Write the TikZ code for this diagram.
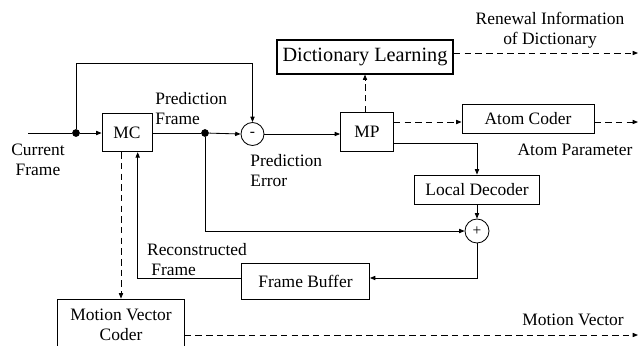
\documentclass[tikz,border=0pt]{standalone}
\usepackage{fontspec}
\setmainfont{Liberation Serif}
\usetikzlibrary{arrows.meta}
\begin{document}
\begin{tikzpicture}[x=0.025cm,y=-0.025cm,
  line width=0.6pt,
  >={Triangle[length=3.8pt,width=3pt]},
  txt/.style={font=\fontsize{12.4}{14.2}\selectfont, inner sep=0pt},
  blk/.style={draw, txt, align=center},
  sumc/.style={draw, circle, inner sep=0pt, minimum size=0.58cm, font=\fontsize{11}{12}\selectfont},
  dot/.style={circle, fill, inner sep=0pt, minimum size=5.5pt},
  dsh/.style={dash pattern=on 4.6pt off 3pt}]
\useasboundingbox (0,0) rectangle (640,345);
\clip (0,0) rectangle (640,345);
% blocks
\node[blk, minimum width=1.25cm, minimum height=0.9625cm] (MC) at (127,132.5) {MC};
\node[blk, minimum width=1.325cm, minimum height=0.975cm] (MP) at (367,132) {MP};
\node[draw, line width=1.4pt, inner sep=0pt, font=\fontsize{14.4}{16}\selectfont, minimum width=4.4cm, minimum height=0.83cm] (DL) at (365,57) {Dictionary Learning};
\node[blk, minimum width=3.3cm, minimum height=0.725cm] (AC) at (528,119) {Atom Coder};
\node[blk, minimum width=3.125cm, minimum height=0.725cm] (LD) at (477,189.5) {Local Decoder};
\node[blk, minimum width=3.2cm, minimum height=0.9cm] (FB) at (305.5,281) {Frame Buffer};
\node[blk, minimum width=3.165cm, minimum height=1.275cm] (MVC) at (121,324.5) {Motion Vector\\Coder};
\node[sumc, minimum size=0.575cm] (sub) at (252.5,134) {-};
\node[sumc, minimum size=0.6cm] (plus) at (477,231) {+};
% junctions and free ends
\node[dot] (j1) at (76,133) {};
\node[dot] (j2) at (205,133) {};
\coordinate (in) at (28,133);
\coordinate (topL) at (76,63);
\coordinate (outDL) at (638,53);
\coordinate (outAC) at (638,122);
\coordinate (mpL) at (394,143);
\coordinate (fby) at (300,278);
\coordinate (mcin) at (137.7,200);
\coordinate (outMV) at (638,335);
% connectors
\draw (in) -- (j1);
\draw[->] (j1) -- (MC.west |- j1);
\draw[->] (j1) -- (topL) -| (sub.north);
\draw (MC.east |- j2) -- (j2);
\draw[->] (j2) -- (sub.west);
\draw[->] (sub.east) -- (MP.west |- sub.east);
\draw[->,dsh] (DL.south |- MP.north) -- (DL.south);
\draw[->,dsh] (DL.east |- outDL) -- (outDL);
\draw[->,dsh] (MP.east |- outAC) -- (AC.west |- outAC);
\draw[->,dsh] (AC.east |- outAC) -- (outAC);
\draw[->] (mpL) -| (LD.north);
\draw[->] (LD.south) -- (plus.north);
\draw[->] (j2) |- (plus.west);
\draw[->] (plus.south) |- (FB.east |- fby);
\draw[->] (FB.west |- fby) -| (mcin |- MC.south);
\draw[->,dsh] (MVC.north |- MC.south) -- (MVC.north);
\draw[->,dsh] (MVC.east |- outMV) -- (outMV);
% labels
\node[txt, align=center] (lcur) at (38,160) {Current\\Frame};
\node[txt, align=left, anchor=west] (lpf) at (155,108.5) {Prediction\\Frame};
\node[txt, align=left, anchor=west] (lpe) at (250,171) {Prediction\\Error};
\node[txt, align=center] (lren) at (550,30) {Renewal Information\\of Dictionary};
\node[txt] (lap) at (575,150) {Atom Parameter};
\node[txt, align=left, anchor=west] (lrec) at (146.7,259.3) {Reconstructed\\\hspace*{3pt}Frame};
\node[txt] (lmv) at (573,320) {Motion Vector};
\end{tikzpicture}
\end{document}
